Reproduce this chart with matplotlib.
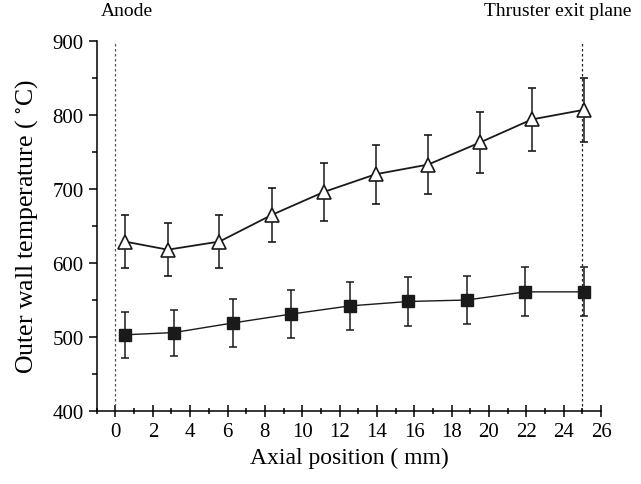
import matplotlib
matplotlib.use("Agg")
import matplotlib.pyplot as plt
from matplotlib.ticker import MultipleLocator

plt.rcParams['font.family'] = ['Liberation Serif', 'DejaVu Serif']
plt.rcParams['mathtext.fontset'] = 'stix'

# open triangles (upper series)
tri_x = [0.5, 2.8, 5.57, 8.37, 11.16, 13.94, 16.74, 19.53, 22.29, 25.08]
tri_y = [629, 618, 629, 665, 696, 720, 733, 763, 794, 807]
tri_err = [36, 36, 36, 37, 39, 40, 40, 41, 43, 43]

# filled squares (lower series)
sq_x = [0.5, 3.13, 6.29, 9.42, 12.54, 15.68, 18.82, 21.95, 25.08]
sq_y = [503, 506, 519, 531, 542, 548, 550, 561, 561]
sq_err = [31, 31, 32, 32, 33, 33, 33, 33, 33]

anode_x = 0
exit_x = 25

fig = plt.figure(figsize=(6.41, 4.85), dpi=100)
ax = fig.add_axes([0.151, 0.1505, 0.7866, 0.7629])

ax.axvline(anode_x, color='#555555', lw=0.9, ls=(0, (2, 2)))
ax.axvline(exit_x, color='#222222', lw=0.9, ls=(0, (2, 2)))

ax.errorbar(tri_x, tri_y, yerr=tri_err, color='#1a1a1a', lw=1.3,
            marker='^', ms=10, mfc='white', mec='#1a1a1a', mew=1.2,
            capsize=3, elinewidth=1.1, capthick=1.1, zorder=3)
ax.errorbar(sq_x, sq_y, yerr=sq_err, color='#1a1a1a', lw=1.0,
            marker='s', ms=8, mfc='#1a1a1a', mec='#1a1a1a',
            capsize=3, elinewidth=1.1, capthick=1.1, zorder=3)

ax.set_xlim(-1, 26)
ax.set_ylim(400, 900)
ax.xaxis.set_major_locator(MultipleLocator(2))
ax.xaxis.set_minor_locator(MultipleLocator(1))
ax.yaxis.set_major_locator(MultipleLocator(100))
ax.yaxis.set_minor_locator(MultipleLocator(50))

for s in ('top', 'right'):
    ax.spines[s].set_visible(False)
ax.spines['left'].set_linewidth(1.1)
ax.spines['bottom'].set_linewidth(1.1)

ax.tick_params(axis='x', which='major', direction='inout', length=9, width=1.1)
ax.tick_params(axis='x', which='minor', direction='inout', length=5, width=1.1)
ax.tick_params(axis='y', which='major', direction='out', length=6, width=1.1)
ax.tick_params(axis='y', which='minor', direction='out', length=3.5, width=1.1)
ax.tick_params(labelsize=15)

ax.set_xlabel('Axial position ( mm)', fontsize=17, labelpad=4)
ax.set_ylabel('Outer wall temperature ( $^{\\circ}$C)', fontsize=18.5, labelpad=9)

ax.text(anode_x + 0.6, 935, 'Anode', fontsize=14, ha='center', va='baseline')
ax.text(exit_x - 1.3, 935, 'Thruster exit plane', fontsize=14, ha='center',
        va='baseline', clip_on=False)

fig.savefig('out.png', dpi=100)
